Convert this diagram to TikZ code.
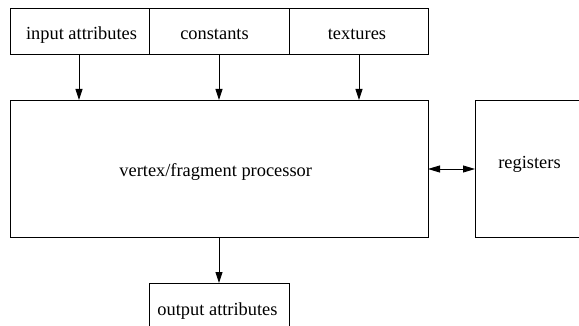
\documentclass[tikz,border=0pt]{standalone}
\usepackage{fontspec}
\setmainfont{Liberation Serif}
\usetikzlibrary{arrows.meta}
\begin{document}
\begin{tikzpicture}[x=1pt,y=-1pt,
  box/.style={draw,line width=0.9pt,inner sep=0pt},
  lbl/.style={font=\fontsize{18.4}{20}\selectfont,anchor=base,inner sep=0pt},
  arr/.style={line width=0.9pt,-{Triangle[width=7pt,length=11pt]}},
  darr/.style={line width=0.9pt,{Triangle[width=7pt,length=12pt]}-{Triangle[width=7pt,length=12pt]}}]
\useasboundingbox (0,0) rectangle (579,326);
\clip (0,0) rectangle (579,326);
% top boxes
\draw[box] (10,8) rectangle (149,54);
\draw[box] (149,8) rectangle (289,54);
\draw[box] (289,8) rectangle (428,54);
\node[lbl] (ia) at (81.5,39.3) {input attributes};
\node[lbl] (co) at (214.5,39.3) {constants};
\node[lbl] (tx) at (357,39.3) {textures};
\coordinate (iab) at (79,54);
\coordinate (cob) at (219,54);
\coordinate (txb) at (359,54);
% main box
\draw[box] (10,100) rectangle (428,237);
\node[lbl] (vp) at (215.7,176.7) {vertex/fragment processor};
\coordinate (vp1) at (79,100);
\coordinate (vp2) at (219,100);
\coordinate (vp3) at (359,100);
\coordinate (vpr) at (428,169);
\coordinate (vpb) at (219,237);
% registers
\draw[box] (475,100) rectangle (600,237);
\node[lbl] (rg) at (529.5,169) {registers};
\coordinate (rgl) at (475,169);
% output
\draw[box] (149,283) rectangle (289,340);
\node[lbl] (oa) at (217.5,316) {output attributes};
\coordinate (oat) at (219,283);
% connectors
\draw[arr] (iab) -- (vp1);
\draw[arr] (cob) -- (vp2);
\draw[arr] (txb) -- (vp3);
\draw[darr] (vpr) -- (rgl);
\draw[arr] (vpb) -- (oat);
\end{tikzpicture}
\end{document}
